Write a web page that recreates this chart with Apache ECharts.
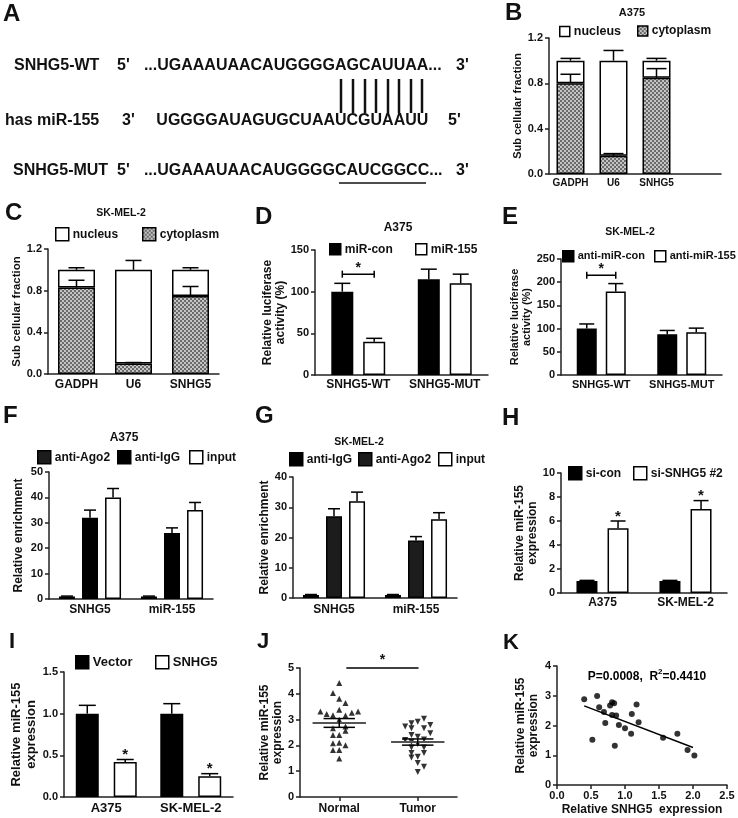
<!DOCTYPE html>
<html><head><meta charset="utf-8">
<script src="https://cdn.jsdelivr.net/npm/echarts@6/dist/echarts.min.js"></script>
<style>html,body{margin:0;padding:0;background:#fff}#c{width:738px;height:818px}</style>
</head><body><div id="c"></div>
<script>
// ---------------- data ----------------
const bCats = ['GADPH', 'U6', 'SNHG5', ''];
const bCytoplasm = [0.80, 0.16, 0.85];
const bCytoplasmErr = [0.08, 0.02, 0.08];
const bNucleus = [0.20, 0.84, 0.15];
const bNucleusErr = [0.02, 0.09, 0.02];

const cCats = ['GADPH', 'U6', 'SNHG5'];
const cCytoplasm = [0.83, 0.10, 0.75];
const cCytoplasmErr = [0.07, 0.01, 0.09];
const cNucleus = [0.17, 0.90, 0.25];
const cNucleusErr = [0.02, 0.09, 0.02];

const dCats = ['SNHG5-WT', 'SNHG5-MUT'];
const dMiRCon = [100, 115], dMiRConErr = [10, 12];
const dMiR155 = [40, 110], dMiR155Err = [4, 11];
const dSig = [[0, 121]];

const eCats = ['SNHG5-WT', 'SNHG5-MUT'];
const eAntiCon = [100, 88], eAntiConErr = [10, 8];
const eAnti155 = [180, 92], eAnti155Err = [17, 9];
const eSig = [[0, 215]];

const fCats = ['SNHG5', 'miR-155'];
const fAgo2 = [1, 1], fAgo2Err = [0.15, 0.15];
const fIgG = [32, 26], fIgGErr = [3, 2];
const fInput = [40, 35], fInputErr = [3.5, 3];

const gCats = ['SNHG5', 'miR-155'];
const gIgG = [1, 1], gIgGErr = [0.15, 0.15];
const gAgo2 = [27, 19], gAgo2Err = [2.5, 1.3];
const gInput = [32, 26], gInputErr = [3, 2.2];

const hCats = ['A375', 'SK-MEL-2'];
const hSiCon = [1, 1], hSiConErr = [0.05, 0.05];
const hSiSNHG5 = [5.4, 7.0], hSiSNHG5Err = [0.6, 0.7];

const iCats = ['A375', 'SK-MEL-2'];
const iVector = [1, 1], iVectorErr = [0.1, 0.12];
const iSNHG5 = [0.42, 0.25], iSNHG5Err = [0.03, 0.03];

const jNormalX = [1.00,0.92,1.00,1.08,0.76,0.84,0.92,1.00,1.08,1.16,1.24,1.00,0.92,1.08,0.92,1.00,1.08,1.00,0.92,1.08,0.92,1.00,1.00];
const jNormalY = [4.42,4.03,3.81,3.64,3.31,3.22,3.17,3.38,3.16,3.27,3.31,2.99,2.66,2.73,2.40,2.40,2.57,2.10,2.08,2.01,1.82,1.82,1.49];
const jTumorX = [2.08,2.00,1.92,2.16,1.84,1.92,2.08,2.16,1.92,2.00,1.84,1.92,2.08,2.00,1.92,2.08,1.92,2.08,1.92,2.00,2.00,2.08,2.00];
const jTumorY = [3.03,2.92,2.86,2.79,2.73,2.66,2.66,2.47,2.40,2.34,2.21,2.14,2.23,2.05,1.92,1.92,1.71,1.71,1.53,1.56,1.32,1.17,0.97];
const jMean = [[1, 2.87, 0.17], [2, 2.13, 0.12]];
const jSig = [[1.09, 2.01, 5.0]];

const kX = [0.40,0.59,0.62,0.69,0.71,0.52,0.78,0.81,0.84,0.81,0.87,0.91,0.85,1.00,1.10,1.09,1.17,1.20,1.56,1.77,1.92,2.02];
const kY = [2.88,2.99,2.61,2.45,2.08,1.52,2.67,2.78,2.75,2.35,2.34,2.02,1.32,1.91,2.39,1.72,2.71,2.11,1.59,1.72,1.18,0.99];
const kFitX = [0.40, 2.00];
const kFitY = [2.66, 1.26];

// ---------------- helpers ----------------
const FF = '"Liberation Sans", Arial, sans-serif';
const AX = '#222';
const INK = '#111';

function makePattern() {
  const c = document.createElement('canvas'); c.width = 4; c.height = 4;
  const x = c.getContext('2d');
  x.fillStyle = '#c4c4c4'; x.fillRect(0, 0, 4, 4);
  x.fillStyle = '#6a6a6a'; x.fillRect(0, 0, 2, 2); x.fillRect(2, 2, 2, 2);
  return { image: c, repeat: 'repeat' };
}
const PAT = makePattern();

function catX(gi, data, fs, margin, tickInt) {
  return {
    type: 'category', gridIndex: gi, data, boundaryGap: true,
    axisLine: { lineStyle: { color: AX, width: 1.5 } },
    axisTick: { alignWithLabel: true, length: 4, interval: tickInt === undefined ? 0 : tickInt, lineStyle: { color: AX, width: 1.5 } },
    axisLabel: { interval: 0, fontSize: fs, fontWeight: 'bold', color: INK, fontFamily: FF, margin },
    splitLine: { show: false }
  };
}
function valY(gi, min, max, interval, digits, name, gap, nfs, lh) {
  return {
    type: 'value', gridIndex: gi, min, max, interval,
    axisLine: { show: true, lineStyle: { color: AX, width: 1.5 } },
    axisTick: { show: true, length: 4, lineStyle: { color: AX, width: 1.5 } },
    axisLabel: { fontSize: 11, fontWeight: 'bold', color: INK, fontFamily: FF, margin: 6, formatter: v => v.toFixed(digits) },
    splitLine: { show: false },
    name, nameLocation: 'middle', nameGap: gap, nameRotate: 90,
    nameTextStyle: { fontSize: nfs, fontWeight: 'bold', color: INK, fontFamily: FF, lineHeight: lh }
  };
}
function bar(name, gi, data, color, w, gap, stack) {
  const s = {
    type: 'bar', name, xAxisIndex: gi, yAxisIndex: gi, data, barWidth: w, barGap: gap,
    itemStyle: { color, borderColor: '#000', borderWidth: 1.5 }, emphasis: { disabled: true }, silent: true
  };
  if (stack) s.stack = stack;
  return s;
}
function offsets(n, w, g) {
  const step = w * (1 + g); const out = [];
  for (let i = 0; i < n; i++) out.push((i - (n - 1) / 2) * step);
  return out;
}
function txt(text, x, y, fs, align, va) {
  return { text, x, y, fill: INK, fontSize: fs, fontWeight: 'bold', fontFamily: FF,
    textAlign: align || 'center', textVerticalAlign: va || 'middle', align: align || 'center', verticalAlign: va || 'middle' };
}
function err(gi, vals, errs, offset, capW, stars) {
  return {
    type: 'custom', xAxisIndex: gi, yAxisIndex: gi, z: 5, silent: true, clip: false,
    data: vals.map((v, i) => [i, v, errs[i], stars && stars[i] ? 1 : 0]),
    encode: { x: 0, y: 1 },
    renderItem: (p, api) => {
      const i = api.value(0), v = api.value(1), e = api.value(2);
      const p0 = api.coord([i, v]), p1 = api.coord([i, v + e]);
      const x = p0[0] + offset;
      const ls = { stroke: '#000', lineWidth: 1.5 };
      const ch = [
        { type: 'line', shape: { x1: x, y1: p0[1], x2: x, y2: p1[1] }, style: ls },
        { type: 'line', shape: { x1: x - capW / 2, y1: p1[1], x2: x + capW / 2, y2: p1[1] }, style: ls }
      ];
      if (api.value(3)) ch.push({ type: 'text', style: txt('*', x, p1[1] + 3, 15, 'center', 'bottom') });
      return { type: 'group', children: ch };
    }
  };
}
function sig(gi, data, half) {
  return {
    type: 'custom', xAxisIndex: gi, yAxisIndex: gi, z: 5, silent: true, clip: false,
    data, encode: { x: 0, y: 1 },
    renderItem: (p, api) => {
      const c = api.coord([api.value(0), api.value(1)]);
      const ls = { stroke: '#000', lineWidth: 1.5 };
      return { type: 'group', children: [
        { type: 'line', shape: { x1: c[0] - half, y1: c[1], x2: c[0] + half, y2: c[1] }, style: ls },
        { type: 'line', shape: { x1: c[0] - half, y1: c[1] - 3.5, x2: c[0] - half, y2: c[1] + 3.5 }, style: ls },
        { type: 'line', shape: { x1: c[0] + half, y1: c[1] - 3.5, x2: c[0] + half, y2: c[1] + 3.5 }, style: ls },
        { type: 'text', style: txt('*', c[0], c[1] + 1, 14, 'center', 'bottom') }
      ] };
    }
  };
}
function leg(name, left, yc, box, fs) {
  return {
    data: [name], left, top: yc - 7, itemWidth: box, itemHeight: box, padding: 0, itemGap: 0,
    selectedMode: false, icon: 'rect', formatter: n => n.slice(2),
    itemStyle: { borderColor: '#000', borderWidth: 1.5 },
    textStyle: { fontSize: fs, fontWeight: 'bold', color: INK, fontFamily: FF, padding: [0, 0, 0, -1] }
  };
}

// ---------------- grids ----------------
const grids = [
  { left: 549, top: 38, width: 172, height: 136 },  // 0 B
  { left: 48, top: 249, width: 171, height: 125 },  // 1 C
  { left: 315, top: 250, width: 173, height: 125 }, // 2 D
  { left: 561, top: 259, width: 161, height: 116 }, // 3 E
  { left: 49, top: 472, width: 164, height: 127 },  // 4 F
  { left: 293, top: 477, width: 164, height: 121 }, // 5 G
  { left: 561, top: 473, width: 166, height: 120 }, // 6 H
  { left: 64, top: 672, width: 169, height: 125 },  // 7 I
  { left: 300, top: 668, width: 157, height: 129 }, // 8 J
  { left: 557, top: 666, width: 170, height: 119 }  // 9 K
];

const xAxes = [
  catX(0, bCats, 10, 4, (idx) => idx < 3),
  catX(1, cCats, 12, 5),
  catX(2, dCats, 12, 4),
  catX(3, eCats, 11, 4),
  catX(4, fCats, 12, 5),
  catX(5, gCats, 12, 6),
  catX(6, hCats, 12, 4),
  catX(7, iCats, 13, 5),
  {
    type: 'value', gridIndex: 8, min: 0.5, max: 2.5,
    axisLine: { lineStyle: { color: AX, width: 1.5 } },
    axisTick: { length: 4, customValues: [1, 2], lineStyle: { color: AX, width: 1.5 } },
    axisLabel: { customValues: [1, 2], fontSize: 12, fontWeight: 'bold', color: INK, fontFamily: FF, margin: 6,
      formatter: v => (v === 1 ? 'Normal' : (v === 2 ? 'Tumor' : '')) },
    splitLine: { show: false }
  },
  {
    type: 'value', gridIndex: 9, min: 0, max: 2.5, interval: 0.5,
    axisLine: { lineStyle: { color: AX, width: 1.5 } },
    axisTick: { length: 4, lineStyle: { color: AX, width: 1.5 } },
    axisLabel: { fontSize: 11, fontWeight: 'bold', color: INK, fontFamily: FF, margin: 5, formatter: v => v.toFixed(1) },
    splitLine: { show: false },
    name: 'Relative SNHG5  expression', nameLocation: 'middle', nameGap: 19,
    nameTextStyle: { fontSize: 12, fontWeight: 'bold', color: INK, fontFamily: FF }
  }
];

const yAxes = [
  valY(0, 0, 1.2, 0.4, 1, 'Sub cellular fraction', 21, 11, 12),
  valY(1, 0, 1.2, 0.4, 1, 'Sub cellular fraction', 22, 11.5, 12),
  valY(2, 0, 150, 50, 0, 'Relative luciferase\nactivity (%)', 22, 12, 13),
  valY(3, 0, 250, 50, 0, 'Relative luciferase\nactivity (%)', 22, 11, 12),
  valY(4, 0, 50, 10, 0, 'Relative enrichment', 24, 12, 13),
  valY(5, 0, 40, 10, 0, 'Relative enrichment', 20, 12, 13),
  valY(6, 0, 10, 2, 0, 'Relative miR-155\nexpression', 21, 12, 13),
  valY(7, 0, 1.5, 0.5, 1, 'Relative miR-155\nexpression', 22, 13, 15),
  valY(8, 0, 5, 1, 0, 'Relative miR-155\nexpression', 15, 12, 13),
  valY(9, 0, 4, 1, 0, 'Relative miR-155\nexpression', 17, 12, 13)
];

// ---------------- series ----------------
const series = [];
// B
series.push(bar('B_cytoplasm', 0, bCytoplasm, PAT, 28, '0%', 'b'));
series.push(bar('B_nucleus', 0, bNucleus, '#fff', 28, '0%', 'b'));
series.push(err(0, bCytoplasm, bCytoplasmErr, 0, 20));
series.push(err(0, bCytoplasm.map((v, i) => v + bNucleus[i]), bNucleusErr, 0, 20));
// C
series.push(bar('C_cytoplasm', 1, cCytoplasm, PAT, 37, '0%', 'c'));
series.push(bar('C_nucleus', 1, cNucleus, '#fff', 37, '0%', 'c'));
series.push(err(1, cCytoplasm, cCytoplasmErr, 0, 16));
series.push(err(1, cCytoplasm.map((v, i) => v + cNucleus[i]), cNucleusErr, 0, 16));
// D
let o = offsets(2, 22, 0.45);
series.push(bar('D_miR-con', 2, dMiRCon, '#000', 22, '45%'));
series.push(bar('D_miR-155', 2, dMiR155, '#fff', 22, '45%'));
series.push(err(2, dMiRCon, dMiRConErr, o[0], 16));
series.push(err(2, dMiR155, dMiR155Err, o[1], 16));
series.push(sig(2, dSig, -o[0]));
// E
o = offsets(2, 20, 0.45);
series.push(bar('E_anti-miR-con', 3, eAntiCon, '#000', 20, '45%'));
series.push(bar('E_anti-miR-155', 3, eAnti155, '#fff', 20, '45%'));
series.push(err(3, eAntiCon, eAntiConErr, o[0], 15));
series.push(err(3, eAnti155, eAnti155Err, o[1], 15));
series.push(sig(3, eSig, -o[0]));
// F
o = offsets(3, 16, 0.44);
series.push(bar('F_anti-Ago2', 4, fAgo2, '#1c1c1c', 16, '44%'));
series.push(bar('F_anti-IgG', 4, fIgG, '#000', 16, '44%'));
series.push(bar('F_input', 4, fInput, '#fff', 16, '44%'));
series.push(err(4, fAgo2, fAgo2Err, o[0], 12));
series.push(err(4, fIgG, fIgGErr, o[1], 12));
series.push(err(4, fInput, fInputErr, o[2], 12));
// G
series.push(bar('G_anti-IgG', 5, gIgG, '#000', 16, '44%'));
series.push(bar('G_anti-Ago2', 5, gAgo2, '#1c1c1c', 16, '44%'));
series.push(bar('G_input', 5, gInput, '#fff', 16, '44%'));
series.push(err(5, gIgG, gIgGErr, o[0], 12));
series.push(err(5, gAgo2, gAgo2Err, o[1], 12));
series.push(err(5, gInput, gInputErr, o[2], 12));
// H
o = offsets(2, 21, 0.48);
series.push(bar('H_si-con', 6, hSiCon, '#000', 21, '48%'));
series.push(bar('H_si-SNHG5 #2', 6, hSiSNHG5, '#fff', 21, '48%'));
series.push(err(6, hSiCon, hSiConErr, o[0], 15));
series.push(err(6, hSiSNHG5, hSiSNHG5Err, o[1], 15, [1, 1]));
// I
o = offsets(2, 23, 0.65);
series.push(bar('I_Vector', 7, iVector, '#000', 23, '65%'));
series.push(bar('I_SNHG5', 7, iSNHG5, '#fff', 23, '65%'));
series.push(err(7, iVector, iVectorErr, o[0], 17));
series.push(err(7, iSNHG5, iSNHG5Err, o[1], 17, [1, 1]));
// J
series.push({ type: 'scatter', xAxisIndex: 8, yAxisIndex: 8, symbol: 'triangle', symbolSize: 6, silent: true,
  itemStyle: { color: '#000' }, data: jNormalX.map((x, i) => [x, jNormalY[i]]) });
series.push({ type: 'scatter', xAxisIndex: 8, yAxisIndex: 8, symbol: 'triangle', symbolRotate: 180, symbolSize: 6, silent: true,
  itemStyle: { color: '#000' }, data: jTumorX.map((x, i) => [x, jTumorY[i]]) });
series.push({
  type: 'custom', xAxisIndex: 8, yAxisIndex: 8, z: 5, silent: true, clip: false, data: jMean, encode: { x: 0, y: 1 },
  renderItem: (p, api) => {
    const x = api.value(0), m = api.value(1), s = api.value(2);
    const a = api.coord([x - 0.34, m]), b = api.coord([x + 0.34, m]);
    const hi = api.coord([x, m + s]), lo = api.coord([x, m - s]);
    const sl = api.coord([x - 0.2, m]), sr = api.coord([x + 0.2, m]);
    const ls = { stroke: '#000', lineWidth: 1.5 };
    return { type: 'group', children: [
      { type: 'line', shape: { x1: a[0], y1: a[1], x2: b[0], y2: b[1] }, style: { stroke: '#555', lineWidth: 2 } },
      { type: 'line', shape: { x1: hi[0], y1: hi[1], x2: lo[0], y2: lo[1] }, style: ls },
      { type: 'line', shape: { x1: sl[0], y1: hi[1], x2: sr[0], y2: hi[1] }, style: ls },
      { type: 'line', shape: { x1: sl[0], y1: lo[1], x2: sr[0], y2: lo[1] }, style: ls }
    ] };
  }
});
series.push({
  type: 'custom', xAxisIndex: 8, yAxisIndex: 8, z: 5, silent: true, clip: false, data: jSig, encode: { x: 0, y: 2 },
  renderItem: (p, api) => {
    const a = api.coord([api.value(0), api.value(2)]), b = api.coord([api.value(1), api.value(2)]);
    return { type: 'group', children: [
      { type: 'line', shape: { x1: a[0], y1: a[1], x2: b[0], y2: b[1] }, style: { stroke: '#000', lineWidth: 1.5 } },
      { type: 'text', style: txt('*', (a[0] + b[0]) / 2, a[1] - 1, 14, 'center', 'bottom') }
    ] };
  }
});
// K
series.push({ type: 'scatter', xAxisIndex: 9, yAxisIndex: 9, symbol: 'circle', symbolSize: 6, silent: true,
  itemStyle: { color: '#000' }, data: kX.map((x, i) => [x, kY[i]]) });
series.push({ type: 'line', xAxisIndex: 9, yAxisIndex: 9, symbol: 'none', silent: true,
  lineStyle: { color: '#000', width: 1.5 }, data: kFitX.map((x, i) => [x, kFitY[i]]) });

// ---------------- legends ----------------
const legends = [
  leg('B_nucleus', 559, 32, 10, 12.5), leg('B_cytoplasm', 637, 32, 10, 12),
  leg('C_nucleus', 55, 234, 13, 12), leg('C_cytoplasm', 142, 234, 13, 12),
  leg('D_miR-con', 329, 250, 11, 12), leg('D_miR-155', 415, 250, 11, 12),
  leg('E_anti-miR-con', 562, 257, 11, 11), leg('E_anti-miR-155', 654, 257, 11, 11),
  leg('F_anti-Ago2', 37, 457, 13, 12), leg('F_anti-IgG', 117, 457, 13, 12), leg('F_input', 189, 457, 13, 12),
  leg('G_anti-IgG', 289, 459, 13, 12), leg('G_anti-Ago2', 358, 459, 13, 12), leg('G_input', 438, 459, 13, 12),
  leg('H_si-con', 568, 473, 13, 12), leg('H_si-SNHG5 #2', 633, 473, 13, 12),
  leg('I_Vector', 75, 662, 13, 13), leg('I_SNHG5', 155, 662, 13, 13)
];

// ---------------- free text (panel A, labels, titles) ----------------
const SEQ = 16;
function T(text, x, y, fs, align) {
  return { type: 'text', x: 0, y: 0, silent: true, style: txt(text, x, y, fs, align || 'left') };
}
const pairX = [341, 353, 365, 376, 388, 399, 411, 422];
const gfx = [
  T('A', 3, 14, 24), T('B', 505, 13, 24), T('C', 5, 213, 24), T('D', 255, 217, 24), T('E', 502, 217, 24),
  T('F', 3, 416, 24), T('G', 255, 416, 24), T('H', 502, 418, 24), T('I', 9, 642, 22), T('J', 257, 642, 22), T('K', 503, 643, 22),
  T('SNHG5-WT', 14, 66, SEQ), T("5'", 117, 66, SEQ), T('...UGAAAUAACAUGGGG', 335, 66, SEQ, 'right'),
  T('AGCAUUAA...', 335, 66, SEQ), T("3'", 456, 66, SEQ),
  T('has miR-155', 5, 121, SEQ), T("3'", 122, 121, SEQ), T('UGGGGAUAGUGCUAA', 335, 121, SEQ, 'right'),
  T('UCGUAAUU', 335, 121, SEQ), T("5'", 448, 121, SEQ),
  T('SNHG5-MUT', 13, 171, SEQ), T("5'", 117, 171, SEQ), T('...UGAAAUAACAUGGGG', 335, 171, SEQ, 'right'),
  T('CAUCGGCC...', 335, 171, SEQ), T("3'", 456, 171, SEQ),
  { type: 'line', silent: true, shape: { x1: 339, y1: 183, x2: 426, y2: 183 }, style: { stroke: INK, lineWidth: 1.5 } },
  T('A375', 632, 13, 11, 'center'), T('SK-MEL-2', 121, 213, 10.5, 'center'), T('A375', 398, 228, 12, 'center'),
  T('SK-MEL-2', 630, 232, 10.5, 'center'), T('A375', 124, 438, 12, 'center'), T('SK-MEL-2', 359, 442, 10.5, 'center'),
  { type: 'text', silent: true, style: {
      text: '{a|P=0.0008,  R}{s|2}{a|=0.4410}', x: 647, y: 675, textAlign: 'center', textVerticalAlign: 'middle', align: 'center', verticalAlign: 'middle',
      rich: { a: { fontSize: 12, fontWeight: 'bold', fontFamily: FF, color: INK, lineHeight: 15, verticalAlign: 'bottom' },
              s: { fontSize: 8, fontWeight: 'bold', fontFamily: FF, color: INK, lineHeight: 15, verticalAlign: 'top', padding: [0, 0, 6, 0] } } } }
];
pairX.forEach(x => gfx.push({ type: 'line', silent: true, shape: { x1: x, y1: 79, x2: x, y2: 113 }, style: { stroke: INK, lineWidth: 2.5 } }));

const chart = echarts.init(document.getElementById('c'), null, { renderer: 'canvas' });
chart.setOption({
  backgroundColor: '#fff',
  animation: false,
  textStyle: { fontFamily: FF },
  grid: grids,
  xAxis: xAxes,
  yAxis: yAxes,
  legend: legends,
  series,
  graphic: { elements: gfx }
});
</script>
</body></html>
